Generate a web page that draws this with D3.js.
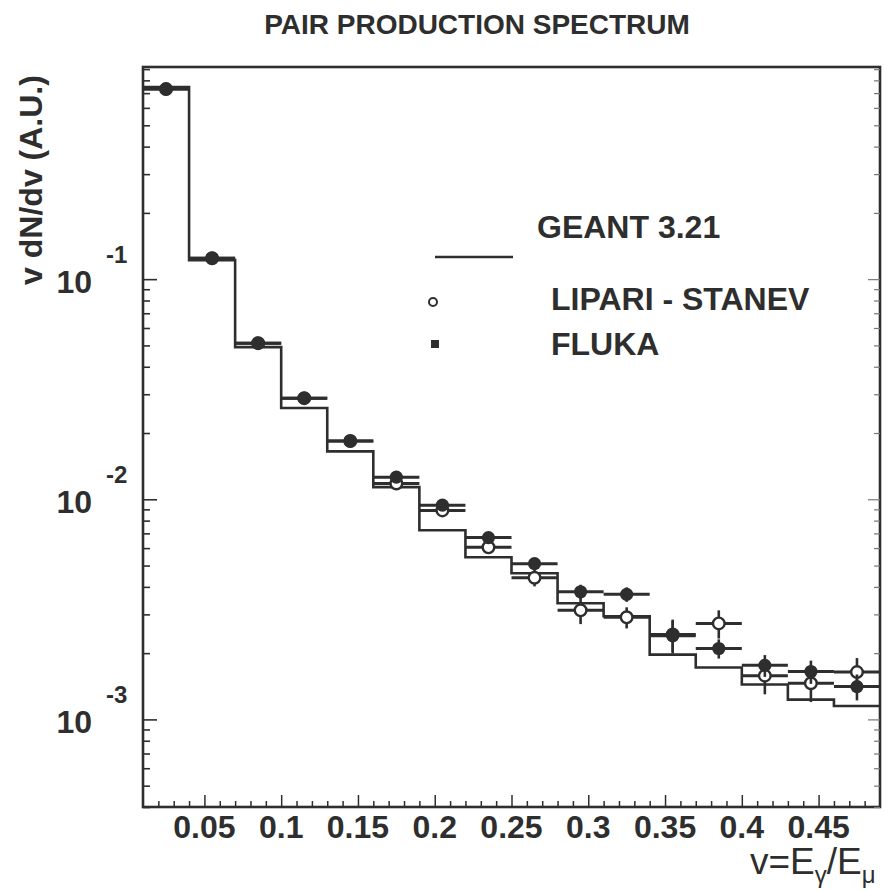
<!DOCTYPE html>
<html>
<head>
<meta charset="utf-8">
<script src="https://cdn.jsdelivr.net/npm/d3@7"></script>
<style>
  html, body { margin: 0; padding: 0; background: #fff; }
  svg { display: block; }
  text { font-family: "Liberation Sans", Arial, Helvetica, sans-serif; fill: #2e2e2e; }
</style>
</head>
<body>
<svg id="chart" width="896" height="890"></svg>
<script>
// ---------- data ----------
const binEdges = [0.01, 0.04, 0.07, 0.10, 0.13, 0.16, 0.19, 0.22, 0.25, 0.28, 0.31, 0.34, 0.37, 0.40, 0.43, 0.46, 0.49];
const geant  = [0.745, 0.122, 0.0491, 0.026, 0.0165, 0.01135, 0.00723, 0.00545, 0.00461, 0.00337, 0.00294, 0.00197, 0.00172, 0.00144, 0.00123, 0.00115];
const lipari = [0.73, 0.1245, 0.0512, 0.0288, 0.0184, 0.0118, 0.0089, 0.00605, 0.0044, 0.00313, 0.00291, 0.00243, 0.00273, 0.00158, 0.00146, 0.00164];
const lipariErr = [0, 0, 0, 0, 0, 0, 0, 0.0002, 0.00038, 0.00042, 0.00032, 0.00041, 0.0004, 0.00028, 0.00026, 0.00026];
const fluka  = [0.73, 0.1245, 0.0512, 0.0288, 0.0184, 0.0126, 0.0094, 0.0067, 0.0051, 0.0038, 0.0037, 0.0024, 0.0021, 0.00176, 0.00165, 0.00141];
const flukaErr = [0, 0, 0, 0, 0, 0, 0, 0.0002, 0.00022, 0.00029, 0.00028, 0.00041, 0.00021, 0.0002, 0.0002, 0.00019];
const xTickLabels = ["0.05", "0.1", "0.15", "0.2", "0.25", "0.3", "0.35", "0.4", "0.45"];
const xTickValues = [0.05, 0.10, 0.15, 0.20, 0.25, 0.30, 0.35, 0.40, 0.45];
const yDecades = [1e-1, 1e-2, 1e-3];
const yDecadeExp = ["-1", "-2", "-3"];
const legendLabels = ["GEANT 3.21", "LIPARI - STANEV", "FLUKA"];
const titleText = "PAIR PRODUCTION SPECTRUM";
const yLabel = "v dN/dv (A.U.)";

// ---------- layout ----------
const ink = "#2e2e2e";
const L = 143, R = 880, T = 67, B = 807;
const svg = d3.select("#chart");
const x = d3.scaleLinear().domain([0.01, 0.49]).range([L, R]);
const y = d3.scaleLog().domain([4e-4, 0.92]).range([B, T]);

// histogram (GEANT)
const histPts = geant.map((v, i) => [binEdges[i], v]);
histPts.push([binEdges[binEdges.length - 1], geant[geant.length - 1]]);
svg.append("path")
  .attr("d", d3.line().x(d => x(d[0])).y(d => y(d[1])).curve(d3.curveStepAfter)(histPts))
  .attr("fill", "none").attr("stroke", ink).attr("stroke-width", 2.6);

// data points
function drawSeries(vals, errs, kind) {
  const g = svg.append("g");
  vals.forEach((v, i) => {
    const x0 = x(binEdges[i]), x1 = x(binEdges[i + 1]);
    const xc = x((binEdges[i] + binEdges[i + 1]) / 2);
    g.append("line").attr("x1", x0).attr("x2", x1).attr("y1", y(v)).attr("y2", y(v))
      .attr("stroke", ink).attr("stroke-width", 3);
    if (errs[i] > 0) {
      g.append("line").attr("x1", xc).attr("x2", xc)
        .attr("y1", y(v + errs[i])).attr("y2", y(Math.max(v - errs[i], 1e-6)))
        .attr("stroke", ink).attr("stroke-width", 2.6);
    }
  });
  vals.forEach((v, i) => {
    const xc = x((binEdges[i] + binEdges[i + 1]) / 2);
    if (kind === "open") {
      g.append("circle").attr("cx", xc).attr("cy", y(v)).attr("r", 5.8)
        .attr("fill", "#fff").attr("stroke", ink).attr("stroke-width", 2.4);
    } else {
      g.append("circle").attr("cx", xc).attr("cy", y(v)).attr("r", 6.6)
        .attr("fill", ink);
    }
  });
}
drawSeries(lipari, lipariErr, "open");
drawSeries(fluka, flukaErr, "filled");

// frame
svg.append("rect").attr("x", L).attr("y", T).attr("width", R - L).attr("height", B - T)
  .attr("fill", "none").attr("stroke", ink).attr("stroke-width", 2.6);

// y ticks (log), left and right, inward
const yMinor = [];
[1e-4, 1e-3, 1e-2, 1e-1].forEach(dec => { for (let k = 1; k <= 9; k++) yMinor.push(dec * k); });
const yTicks = yMinor.filter(v => y(v) >= T && y(v) <= B);
const isDecade = d => Math.abs(Math.log10(d) - Math.round(Math.log10(d))) < 1e-9;
const yAxisL = d3.axisRight(y).tickValues(yTicks).tickFormat("").tickSizeOuter(0).tickSize(7);
const gyl = svg.append("g").attr("transform", `translate(${L},0)`).call(yAxisL);
gyl.select(".domain").remove();
gyl.selectAll(".tick line").attr("stroke", ink).attr("stroke-width", 1.6)
  .attr("x2", d => (isDecade(d) ? 14 : 7));
const yAxisR = d3.axisLeft(y).tickValues(yTicks).tickFormat("").tickSizeOuter(0).tickSize(6);
const gyr = svg.append("g").attr("transform", `translate(${R},0)`).call(yAxisR);
gyr.select(".domain").remove();
gyr.selectAll(".tick line").attr("stroke", "#777").attr("stroke-width", 1.2)
  .attr("x2", d => (isDecade(d) ? -12 : -6));

// y decade labels
yDecades.forEach((d, i) => {
  const yy = y(d);
  svg.append("text").attr("x", 92).attr("y", yy + 14).attr("text-anchor", "end")
    .attr("font-size", 32).attr("font-weight", "bold").text("10");
  svg.append("text").attr("x", 106).attr("y", yy - 16).attr("text-anchor", "start")
    .attr("font-size", 24).attr("font-weight", "bold").text(yDecadeExp[i]);
});

// x ticks, inward (up) every 0.01
const xMinor = d3.range(2, 49).map(k => k / 100);
const xAxis = d3.axisTop(x).tickValues(xMinor).tickFormat("").tickSizeOuter(0).tickSize(6);
const gx = svg.append("g").attr("transform", `translate(0,${B})`).call(xAxis);
gx.select(".domain").remove();
gx.selectAll(".tick line").attr("stroke", ink).attr("stroke-width", 1.5)
  .attr("y2", d => (Math.round(d * 100) % 5 === 0 ? -12 : -6));

// x tick labels
xTickValues.forEach((v, i) => {
  svg.append("text").attr("x", x(v)).attr("y", 838).attr("text-anchor", "middle")
    .attr("font-size", 32).attr("font-weight", "bold").text(xTickLabels[i]);
});

// title
svg.append("text").attr("x", 477).attr("y", 34).attr("text-anchor", "middle")
  .attr("font-size", 28).attr("font-weight", "bold").text(titleText);

// y label
svg.append("text").attr("transform", "translate(42,180) rotate(-90)")
  .attr("text-anchor", "middle").attr("font-size", 32).attr("font-weight", "bold").text(yLabel);

// x axis title  v=Eγ/Eμ
const xt = svg.append("text").attr("x", 750).attr("y", 874).attr("font-size", 37)
  .attr("font-family", "'DejaVu Sans', sans-serif")
  .style("font-weight", 200).attr("fill", "#333");
xt.append("tspan").text("v=E");
xt.append("tspan").attr("font-size", 24).attr("dy", 9).text("γ");
xt.append("tspan").attr("dy", -9).text("/E");
xt.append("tspan").attr("font-size", 24).attr("dy", 9).text("μ");

// legend
svg.append("line").attr("x1", 435).attr("x2", 513).attr("y1", 257).attr("y2", 257)
  .attr("stroke", ink).attr("stroke-width", 2.6);
svg.append("text").attr("x", 537).attr("y", 238).attr("font-size", 32).attr("font-weight", "bold")
  .text(legendLabels[0]);
svg.append("circle").attr("cx", 433).attr("cy", 302).attr("r", 4)
  .attr("fill", "#fff").attr("stroke", ink).attr("stroke-width", 2);
svg.append("text").attr("x", 551).attr("y", 310).attr("font-size", 32).attr("font-weight", "bold")
  .text(legendLabels[1]);
svg.append("rect").attr("x", 431).attr("y", 340).attr("width", 8).attr("height", 8).attr("fill", ink);
svg.append("text").attr("x", 551).attr("y", 355).attr("font-size", 32).attr("font-weight", "bold")
  .text(legendLabels[2]);
</script>
</body>
</html>
